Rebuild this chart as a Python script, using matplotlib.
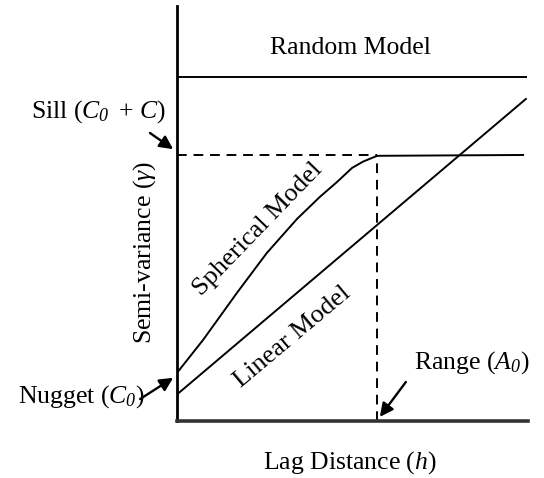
import matplotlib
matplotlib.use("Agg")
import matplotlib.pyplot as plt

plt.rcParams["font.family"] = "Liberation Serif"
plt.rcParams["mathtext.fontset"] = "custom"
# every symbol set in math mode here (C, 0, h, A, gamma) is italic
plt.rcParams["mathtext.rm"] = "Liberation Serif:italic"
plt.rcParams["mathtext.it"] = "Liberation Serif:italic"

# semivariogram sketch values (arbitrary units, axes span 0..10)
random_sill = 8.30
sill = 6.40
range_a0 = 5.70
x_max = 9.93

spherical_x = [0.0, 0.74, 1.71, 2.56, 3.42, 4.07, 4.56, 4.99, 5.30, 5.70, 9.86]
spherical_y = [1.16, 1.95, 3.09, 4.05, 4.87, 5.40, 5.76, 6.10, 6.25, 6.39, 6.41]

linear_x = [0.0, 9.94]
linear_y = [0.64, 7.76]

fig = plt.figure(figsize=(5.44, 4.78), dpi=100)
ax = fig.add_axes([177 / 544, 57 / 478, 351 / 544, 415 / 478])
ax.set_xlim(0, 10)
ax.set_ylim(0, 10)
for side in ("top", "right"):
    ax.spines[side].set_visible(False)
ax.spines["left"].set_linewidth(2.0)
ax.spines["bottom"].set_linewidth(2.6)
ax.spines["bottom"].set_color("#333333")
ax.set_xticks([])
ax.set_yticks([])

lw = 1.4
dash = (0, (5, 3.5))
ax.plot([0, x_max], [random_sill, random_sill], color="black", lw=lw)
ax.plot(spherical_x, spherical_y, color="black", lw=lw)
ax.plot(linear_x, linear_y, color="black", lw=lw)
ax.plot([0, range_a0], [sill, sill], color="black", lw=lw, ls=dash)
ax.plot([range_a0, range_a0], [0, sill], color="black", lw=lw, ls=dash)

fs = 18.5
ax.text(4.93, 8.99, "Random Model", ha="center", va="center", fontsize=fs)
ax.text(4.93, -0.99, "Lag Distance ($h$)", ha="center", va="center",
        fontsize=fs, clip_on=False)
ax.text(-0.91, 4.07, "Semi-variance ($\\gamma$)", ha="center", va="center",
        rotation=90, fontsize=fs, clip_on=False)
ax.text(2.31, 4.62, "Spherical Model", ha="center", va="center",
        rotation=46, rotation_mode="anchor", fontsize=19)
ax.text(3.28, 2.02, "Linear Model", ha="center", va="center",
        rotation=40, rotation_mode="anchor", fontsize=19)

arrow = dict(arrowstyle="-|>", mutation_scale=20, lw=1.7, color="black",
             shrinkA=0, shrinkB=0)
ax.annotate("", xy=(-0.11, 6.55), xytext=(-0.77, 6.94), arrowprops=arrow,
            annotation_clip=False)
ax.text(-2.25, 7.45, "Sill ($C_0\\,$ + $C$)", ha="center", va="center",
        fontsize=fs, clip_on=False)
ax.annotate("", xy=(-0.11, 1.04), xytext=(-1.05, 0.53), arrowprops=arrow,
            annotation_clip=False)
ax.text(-2.72, 0.58, "Nugget ($C_0$)", ha="center", va="center",
        fontsize=fs, clip_on=False)
ax.annotate("", xy=(5.78, 0.10), xytext=(6.52, 0.94), arrowprops=arrow,
            annotation_clip=False)
ax.text(8.40, 1.40, "Range ($A_0$)", ha="center", va="center",
        fontsize=fs, clip_on=False)

fig.savefig("out.png", dpi=100)
